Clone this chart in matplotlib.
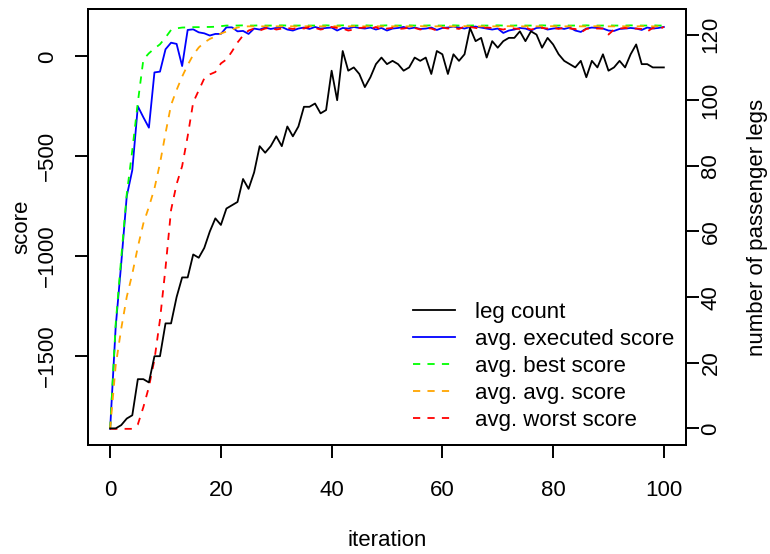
import matplotlib
matplotlib.use("Agg")
import matplotlib.pyplot as plt

plt.rcParams['font.family'] = ['Liberation Sans', 'DejaVu Sans']
plt.rcParams['font.size'] = 16

iterations = list(range(101))

leg_count = [
    0, 0, 1, 3, 4, 15, 15, 14, 22, 22,
    32, 32, 40, 46, 46, 53, 52, 55, 60, 64,
    62, 67, 68, 69, 76, 73, 78, 86, 84, 86,
    89, 86, 92, 89, 92, 98, 98, 99, 96, 97,
    109, 100, 115, 109, 110, 108, 104, 107, 111, 113,
    111, 112, 111, 109, 110, 113, 112, 113, 108, 115,
    114, 108, 114, 112, 114, 122, 118, 119, 113, 118,
    116, 118, 119, 119, 121, 118, 121, 120, 116, 119,
    117, 114, 112, 111, 110, 112, 107, 112, 110, 114,
    109, 110, 112, 110, 114, 117, 111, 111, 110, 110, 110,
]

executed_score = [
    -1867, -1356, -1038, -700, -570, -250, -305, -357, -80, -76,
    36, 69, 63, -48, 133, 136, 121, 116, 105, 113,
    113, 146, 146, 126, 128, 113, 140, 135, 145, 138,
    143, 148, 135, 130, 140, 145, 138, 148, 140, 143,
    145, 130, 143, 140, 148, 143, 140, 145, 135, 143,
    130, 140, 143, 148, 140, 145, 138, 140, 145, 133,
    143, 145, 150, 145, 140, 148, 150, 145, 140, 135,
    140, 118, 130, 135, 143, 140, 130, 143, 145, 135,
    140, 143, 138, 145, 130, 123, 140, 145, 143, 140,
    130, 128, 138, 140, 143, 140, 133, 145, 140, 143, 148,
]

best_score = [
    -1867, -1340, -1010, -690, -470, -230, -15, 16, 40, 61,
    95, 133, 141, 145, 146, 147, 147, 148, 148, 149,
    152, 155, 155, 155, 156, 155, 155, 156, 155, 155,
    155, 156, 155, 155, 155, 156, 155, 155, 155, 156,
    155, 155, 156, 155, 155, 155, 156, 155, 155, 155,
    156, 155, 155, 155, 156, 155, 155, 155, 156, 155,
    155, 155, 156, 155, 155, 155, 156, 155, 155, 155,
    156, 155, 155, 155, 156, 155, 155, 155, 156, 155,
    155, 155, 156, 155, 155, 155, 156, 155, 155, 155,
    156, 155, 155, 155, 156, 155, 155, 155, 156, 155, 155,
]

avg_score = [
    -1867, -1550, -1365, -1205, -1090, -955, -837, -754, -662, -536,
    -385, -243, -168, -101, -43, 8, 45, 70, 88, 100,
    115, 125, 135, 145, 150, 151, 151, 151, 151, 152,
    151, 151, 152, 151, 151, 151, 152, 151, 151, 151,
    152, 151, 151, 151, 152, 151, 151, 151, 152, 151,
    151, 151, 152, 151, 151, 151, 152, 151, 151, 151,
    152, 151, 151, 151, 152, 151, 151, 151, 152, 151,
    151, 151, 152, 151, 151, 151, 152, 151, 151, 151,
    152, 151, 151, 151, 152, 151, 151, 151, 152, 151,
    151, 151, 152, 151, 151, 151, 152, 151, 151, 151, 152,
]

worst_score = [
    -1867, -1867, -1867, -1867, -1867, -1845, -1758, -1657, -1520, -1320,
    -1060, -770, -640, -550, -400, -230, -170, -110, -90, -78,
    -35, -15, 25, 70, 105, 130, 140, 130, 140, 145,
    135, 140, 143, 138, 145, 140, 148, 143, 135, 140,
    148, 143, 140, 130, 135, 143, 145, 138, 148, 133,
    140, 143, 138, 140, 145, 143, 135, 143, 140, 130,
    145, 140, 143, 138, 150, 148, 143, 138, 145, 143,
    140, 135, 143, 140, 138, 145, 135, 140, 143, 140,
    143, 138, 145, 140, 138, 120, 138, 143, 140, 140,
    110, 135, 140, 143, 138, 140, 138, 125, 143, 135, 148,
]

fig = plt.figure(figsize=(7.7, 5.54), dpi=100)
ax = fig.add_axes([88 / 770, 1 - 445 / 554, 598 / 770, 436 / 554])

lw = 1.3
dash = (0, (4, 4))
ax.plot(iterations, executed_score, color='blue', lw=lw, label='avg. executed score')
ax.plot(iterations, best_score, color='#00ff00', lw=lw, ls=dash, label='avg. best score')
ax.plot(iterations, avg_score, color='orange', lw=lw, ls=dash, label='avg. avg. score')
ax.plot(iterations, worst_score, color='red', lw=lw, ls=dash, label='avg. worst score')

ax.set_xlim(-4, 104)
ax.set_ylim(-1948, 238)
ax.set_xticks([0, 20, 40, 60, 80, 100])
ax.set_yticks([-1500, -1000, -500, 0])

# leg count goes on its own right-hand scale
ax2 = ax.twinx()
ax2.plot(iterations, leg_count, color='black', lw=lw, label='leg count')
ax2.set_ylim(-5.06, 127.8)
ax2.set_yticks([0, 20, 40, 60, 80, 100, 120])

for a in (ax, ax2):
    for s in a.spines.values():
        s.set_linewidth(1.4)
ax.tick_params(axis='both', direction='out', length=9.4, width=1.4, labelsize=16)
ax.tick_params(axis='x', pad=16)
ax.tick_params(axis='y', pad=12, labelrotation=90)
ax2.tick_params(axis='y', direction='out', length=9.4, width=1.4, labelsize=16,
                pad=1, labelrotation=90)
for lab in ax.get_yticklabels() + ax2.get_yticklabels():
    lab.set_va('center')

ax.set_xlabel('iteration', fontsize=16)
ax.set_ylabel('score', fontsize=16)
ax2.set_ylabel('number of passenger legs', fontsize=16)
ax.xaxis.set_label_coords(0.5, (445 - 541) / 436)
ax.xaxis.label.set_va('center')
ax.yaxis.set_label_coords((22 - 88) / 598, 0.5)
ax.yaxis.label.set_va('center')
ax2.yaxis.set_label_coords((757 - 88) / 598, 0.5)
ax2.yaxis.label.set_va('center')
ax2.yaxis.label.set_rotation(90)

h1, l1 = ax.get_legend_handles_labels()
h2, l2 = ax2.get_legend_handles_labels()
ax2.legend(h2 + h1, l2 + l1, loc='upper left', bbox_to_anchor=(413 / 770, 1 - 302 / 554),
           bbox_transform=fig.transFigure, frameon=False, borderpad=0, borderaxespad=0,
           handlelength=1.9, handletextpad=0.9, labelspacing=0.27, fontsize=16)

fig.savefig('out.png', dpi=100)
